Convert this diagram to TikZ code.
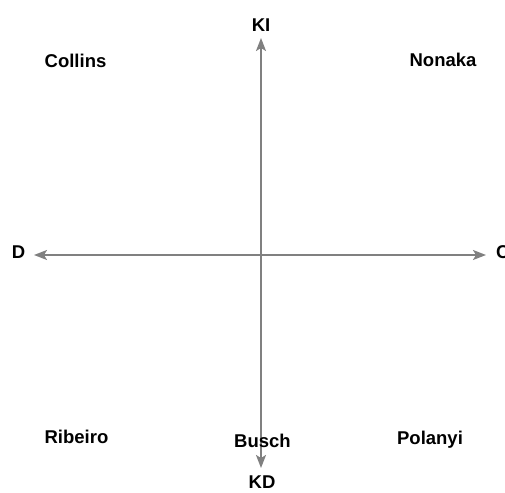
\documentclass[tikz,border=0pt]{standalone}
\usepackage{fontspec}
\setmainfont{Liberation Sans}
\usetikzlibrary{arrows.meta}
\begin{document}
\begin{tikzpicture}[x=1pt,y=-1pt,
  lbl/.style={font=\fontsize{18.5}{21}\selectfont\bfseries, anchor=base, inner sep=0pt},
  axis/.style={draw=black!50, line width=1.8pt, -{Stealth[length=13pt,width=10pt,inset=3pt]}}]
\useasboundingbox (0,0) rectangle (505,492);
\coordinate (O) at (261,255);
\coordinate (top) at (261,38);
\coordinate (bot) at (261,468);
\coordinate (left) at (34,255);
\coordinate (right) at (486,255);
\draw[axis] (O) -- (top);
\draw[axis] (O) -- (bot);
\draw[axis] (O) -- (left);
\draw[axis] (O) -- (right);
\node[lbl] (KI) at (261,32) {KI};
\node[lbl] (KD) at (262,488) {KD};
\node[lbl] (D) at (18.5,258.5) {D};
\node[lbl, anchor=base west] (C) at (496,258.5) {C};
\node[lbl] (collins) at (75.5,67.5) {Collins};
\node[lbl] (nonaka) at (443,67) {Nonaka};
\node[lbl] (ribeiro) at (76.5,443.5) {Ribeiro};
\node[lbl] (busch) at (262.5,447) {Busch};
\node[lbl] (polanyi) at (430,444) {Polanyi};
\end{tikzpicture}
\end{document}
